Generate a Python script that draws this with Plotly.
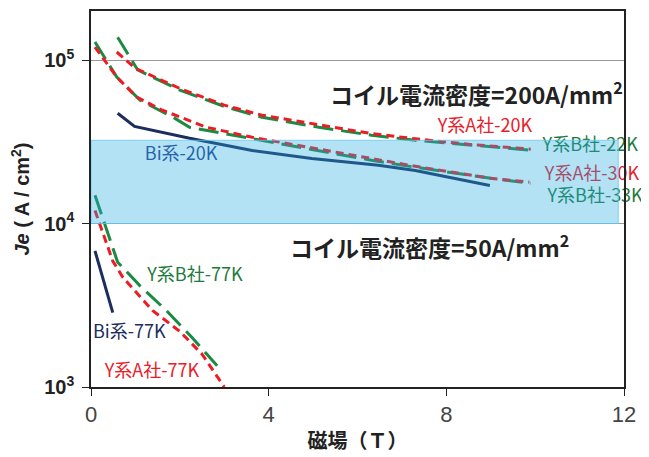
import plotly.graph_objects as go

# ---- data ----
b22_x = [0.6, 0.92, 1.05, 2.0, 3.04, 3.85, 5.13, 6.31, 7.3, 9.9]
b22_y = [1.38e5, 1.0e5, 8.7e4, 6.55e4, 5.16e4, 4.47e4, 3.88e4, 3.47e4, 3.23e4, 2.81e4]
a20_x = [0.58, 1.0, 2.0, 3.0, 3.85, 5.13, 6.31, 7.3, 8.5, 9.9]
a20_y = [1.12e5, 8.9e4, 6.7e4, 5.3e4, 4.6e4, 4.0e4, 3.55e4, 3.3e4, 3.05e4, 2.85e4]
b33_x = [0.09, 0.58, 1.1, 1.88, 2.22, 4.23, 6.31, 7.3, 9.0, 9.9]
b33_y = [1.29e5, 7.87e4, 5.69e4, 4.41e4, 3.88e4, 3.10e4, 2.44e4, 2.21e4, 1.89e4, 1.76e4]
a30_x = [0.09, 0.58, 1.03, 1.61, 2.6, 3.63, 6.31, 7.3, 9.0, 9.87]
a30_y = [1.2e5, 7.87e4, 5.93e4, 4.93e4, 3.88e4, 3.37e4, 2.5e4, 2.24e4, 1.89e4, 1.79e4]
bi20_x = [0.6, 0.98, 2.22, 3.63, 4.97, 6.47, 7.3, 8.98]
bi20_y = [4.73e4, 3.93e4, 3.32e4, 2.8e4, 2.5e4, 2.27e4, 2.11e4, 1.71e4]
b77_x = [0.09, 0.6, 1.1, 1.7, 2.28, 2.84]
b77_y = [1.49e4, 5.8e3, 4.17e3, 2.93e3, 2.0e3, 1.35e3]
a77_x = [0.09, 0.49, 0.72, 1.39, 1.99, 2.5, 3.0]
a77_y = [1.2e4, 5.9e3, 4.67e3, 2.93e3, 2.2e3, 1.59e3, 1.0e3]
bi77_x = [0.09, 0.49]
bi77_y = [6.8e3, 2.85e3]

band_x = [0, 11.87]
band_y = [1e4, 3.23e4]

x_ticks = [0, 4, 8, 12]
y_ticks = [1e3, 1e4, 1e5]
y_ticktext = ["<b>10<sup>3</sup></b>", "<b>10<sup>4</sup></b>", "<b>10<sup>5</sup></b>"]

labels = [
    ("Y系A社-20K", 8.87, 3.88e4, "#e8202a"),
    ("Y系B社-22K", 11.24, 2.97e4, "#1d7a3c"),
    ("Y系A社-30K", 11.28, 1.97e4, "#e8202a"),
    ("Y系B社-33K", 11.35, 1.44e4, "#1d7a3c"),
    ("Bi系-20K", 2.03, 2.61e4, "#293d8c"),
    ("Y系B社-77K", 2.34, 4.73e3, "#1d7a3c"),
    ("Bi系-77K", 0.86, 2.11e3, "#1c2d5e"),
    ("Y系A社-77K", 1.37, 1.22e3, "#e8202a"),
]

RED = "#ec1c24"
GREEN = "#1b8a43"
NAVY = "#1c2d5e"
CJK = "Noto Sans CJK JP"

fig = go.Figure()

def line(x, y, color, dash):
    fig.add_trace(go.Scatter(x=x, y=y, mode="lines", line=dict(color=color, width=3, dash=dash),
                             showlegend=False, hoverinfo="skip"))

line(bi20_x, bi20_y, NAVY, "solid")
line(bi77_x, bi77_y, NAVY, "solid")
line(b22_x, b22_y, GREEN, "20px,8px")
line(a20_x, a20_y, RED, "8px,5px")
line(b33_x, b33_y, GREEN, "20px,8px")
line(a30_x, a30_y, RED, "8px,5px")
line(b77_x, b77_y, GREEN, "20px,8px")
line(a77_x, a77_y, RED, "8px,5px")

for t, x, y, c in labels:
    fig.add_trace(go.Scatter(x=[x], y=[y], mode="text", text=[t], textposition="middle center",
                             textfont=dict(family=CJK, size=18, color=c), cliponaxis=False,
                             showlegend=False, hoverinfo="skip"))

fig.add_shape(type="rect", xref="x", yref="y", x0=band_x[0], x1=band_x[1], y0=band_y[0], y1=band_y[1],
              fillcolor="rgba(38,172,226,0.35)", line=dict(color="rgba(100,200,240,0.8)", width=1),
              layer="above")

fig.add_annotation(x=8.67, y=4.798, xref="x", yref="y", text="<b>コイル電流密度=200A/mm<sup>2</sup></b>",
                   showarrow=False, font=dict(family=CJK, size=23, color="#222"))
fig.add_annotation(x=7.63, y=3.865, xref="x", yref="y", text="<b>コイル電流密度=50A/mm<sup>2</sup></b>",
                   showarrow=False, font=dict(family=CJK, size=23, color="#222"))

# page body has an 8px margin: shrink figure so the plot lands where the reference has it
fig.update_layout(
    width=641, height=449,
    margin=dict(l=83, r=25, t=3, b=70),
    plot_bgcolor="white", paper_bgcolor="white",
    xaxis=dict(range=[0, 12], tickvals=x_ticks, ticks="outside", ticklen=7, tickcolor="#222",
               showline=True, linecolor="#222", linewidth=1.5, mirror=True, showgrid=False, zeroline=False,
               automargin=False,
               tickfont=dict(family="Liberation Sans Narrow, Arial", size=22, color="#444"),
               ticklabelstandoff=0,
               title=dict(text="<b>磁場（Ｔ）</b>", font=dict(family=CJK, size=20, color="#222"), standoff=8)),
    yaxis=dict(type="log", range=[3, 5.30], tickvals=y_ticks, ticktext=y_ticktext, ticks="outside",
               ticklen=7, tickcolor="#222", showline=True, linecolor="#222", linewidth=1.5, mirror=True,
               showgrid=True, gridcolor="#999", gridwidth=1, zeroline=False, automargin=False,
               tickfont=dict(family="Liberation Sans", size=20, color="#222"), ticklabelstandoff=4,
               title=dict(text="<b><i>Je</i> ( A / cm<sup>2</sup>)</b>",
                          font=dict(family="Liberation Sans", size=20, color="#222"), standoff=10)),
)

fig.write_html("out.html")
